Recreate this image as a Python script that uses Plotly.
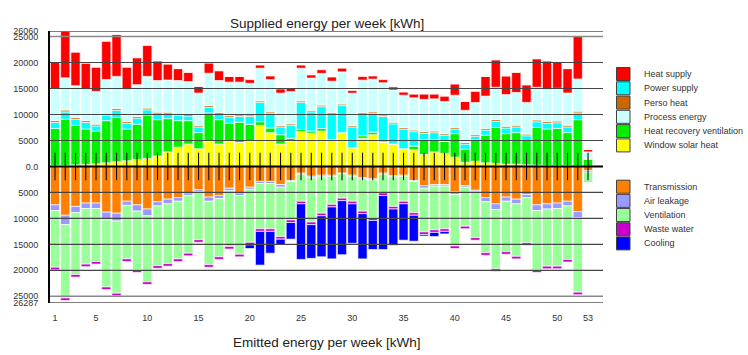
import plotly.graph_objects as go

weeks = list(range(1, 54))

# Supplied energy (kWh), stacked upward from zero
window_solar = [200, 200, 300, 400, 500, 700, 900, 1100, 1350, 1550, 2000, 2800, 3700, 4300, 3400, 4800, 4300, 4800, 4600, 4800,
                7900, 6500, 4300, 4900, 6700, 6400, 6800, 5200, 6500, 3600, 5400, 6100, 4700, 4300, 3400, 3200, 2300, 2800, 2500, 1800,
                800, 1000, 700, 600, 450, 450, 300, 250, 200, 200, 200, 100, 50]
heat_recovery = [7100, 8900, 7600, 6800, 6300, 8100, 8500, 6100, 6750, 8350, 7000, 6400, 5100, 4500, 3100, 5500, 4700, 3500, 3900, 3300,
                 700, 900, 1800, 500, 400, 400, 500, 0, 0, 0, 500, 500, 0, 0, 0, 700, 2800, 2300, 2300, 4500,
                 2500, 4100, 5300, 6900, 5850, 6050, 4700, 7250, 7000, 7100, 6300, 8900, 1300]
power_supply = [1150, 1400, 1200, 1250, 1000, 1100, 1400, 1100, 1200, 1000, 1100, 900, 1100, 900, 1100, 1100, 1000, 1200, 1100, 1500,
                3700, 2900, 1500, 2500, 5200, 3700, 4200, 4900, 5200, 4000, 4200, 3700, 4900, 3900, 3800, 2800, 1300, 1400, 1200, 900,
                1000, 700, 1000, 1200, 1100, 1100, 900, 1100, 1100, 1100, 1100, 1300, 150]
perso_heat = [350, 350, 330, 350, 330, 330, 330, 330, 330, 330, 330, 330, 330, 330, 320, 330, 330, 320, 320, 300,
              300, 300, 300, 300, 300, 300, 300, 300, 300, 300, 300, 300, 300, 300, 300, 300, 300, 300, 300, 300,
              300, 300, 320, 330, 330, 330, 320, 330, 330, 330, 330, 330, 100]
process_energy = [6200, 6200, 6100, 6000, 6300, 6500, 6200, 6200, 6100, 6100, 6100, 6200, 6300, 6300, 6200, 6200, 6200, 6400, 6300, 6100,
                  6300, 6100, 6200, 6200, 6300, 6200, 6100, 6000, 6200, 6200, 6200, 6200, 6200, 6200, 6200, 6200, 6200, 6200, 6200, 6200,
                  6200, 6200, 6200, 6200, 6100, 6300, 6100, 6300, 6200, 6300, 6200, 6200, 1200]
heat_supply = [5200, 9000, 6500, 5100, 4700, 7400, 8100, 4300, 5200, 6000, 3800, 3100, 2300, 1800, 1300, 2000, 1900, 1100, 1100, 700,
               600, 700, 800, 600, 600, 600, 700, 800, 700, 500, 700, 600, 600, 600, 600, 700, 1000, 900, 1000, 2200,
               1700, 2200, 3800, 5300, 3600, 3900, 3400, 5500, 5500, 5100, 4700, 8200, 450]

# Emitted energy (kWh), stacked downward from zero
transmission = [7400, 9400, 7700, 7050, 7050, 8800, 9000, 6700, 7400, 8200, 6800, 6300, 6000, 5100, 4500, 5900, 5600, 4200, 5100, 4000,
                2900, 2900, 3500, 2700, 1300, 1900, 1700, 1700, 1300, 1700, 2200, 2400, 1300, 1800, 1700, 2700, 3700, 3500, 3500, 4900,
                3700, 4600, 6000, 7200, 5900, 6300, 5400, 7400, 7200, 7050, 6700, 8700, 800]
air_leakage = [1100, 1800, 1200, 1050, 1050, 1500, 1500, 800, 1200, 1300, 800, 900, 700, 500, 400, 800, 600, 500, 500, 400,
               400, 400, 500, 200, 200, 300, 300, 200, 100, 200, 200, 200, 200, 200, 200, 200, 500, 300, 300, 500,
               300, 300, 800, 1100, 800, 900, 600, 1100, 1000, 1050, 900, 1200, 300]
ventilation = [10900, 14100, 11900, 10700, 10200, 12900, 13900, 10300, 11300, 12700, 11500, 11500, 11100, 11100, 9200, 12200, 11200, 10700, 11300, 10200,
               8700, 8700, 9500, 7400, 5200, 8500, 7000, 5400, 4700, 4800, 6200, 7300, 3600, 5700, 4800, 6000, 8400, 8400, 8200, 9900,
               7500, 8800, 9800, 11400, 9700, 10100, 8700, 11400, 11000, 11100, 10300, 14300, 2000]
waste_water = [500] * 52 + [50]
cooling = [0, 0, 0, 0, 0, 0, 0, 0, 0, 0, 0, 0, 0, 0, 0, 0, 0, 0, 0, 700,
           6500, 4200, 1100, 3200, 10700, 6500, 7900, 10000, 10400, 7600, 8700, 5600, 10400, 7000, 7000, 5000, 300, 800, 500, 0,
           0, 0, 0, 0, 0, 0, 0, 0, 0, 0, 0, 0, 0]

y_top = 26060
y_bottom = -26287
y_ticks = [26060, 25000, 20000, 15000, 10000, 5000, 0, -5000, -10000, -15000, -20000, -25000, -26287]
y_ticktext = ["26060", "25000", "20000", "15000", "10000", "5000", "0.0", "5000", "10000", "15000", "20000", "25000", "26287"]
x_ticks = [1, 5, 10, 15, 20, 25, 30, 35, 40, 45, 50, 53]
week_mark = 2650

supplied = [
    ("Window solar heat", window_solar, "#FFFF00"),
    ("Heat recovery ventilation", heat_recovery, "#00F000"),
    ("Power supply", power_supply, "#00FFFF"),
    ("Perso heat", perso_heat, "#CC6600"),
    ("Process energy", process_energy, "#CCFFFF"),
    ("Heat supply", heat_supply, "#FF0000"),
]
emitted = [
    ("Transmission", transmission, "#FF8000"),
    ("Air leakage", air_leakage, "#9999FF"),
    ("Ventilation", ventilation, "#99FF99"),
    ("Waste water", waste_water, "#CC00CC"),
    ("Cooling", cooling, "#0000FF"),
]

fig = go.Figure()
for name, vals, col in supplied:
    fig.add_trace(go.Bar(x=weeks, y=vals, name=name, marker=dict(color=col, line=dict(color="rgba(255,255,255,0.85)", width=0.8)),
                         showlegend=False))
for name, vals, col in emitted:
    fig.add_trace(go.Bar(x=weeks, y=[-v for v in vals], name=name, marker=dict(color=col, line=dict(color="rgba(255,255,255,0.85)", width=0.8)),
                         showlegend=False))

# week marks across the zero line
mx, my = [], []
for w in weeks:
    mx += [w, w, None]
    my += [week_mark, -week_mark, None]
fig.add_trace(go.Scatter(x=mx, y=my, mode="lines", line=dict(color="#111111", width=1.1), showlegend=False, hoverinfo="skip"))

# plot area geometry in pixels (for legend / titles placement)
W, H = 748, 355
ml, mr, mt, mb = 50, 145, 31, 52
pw, ph = W - ml - mr, H - mt - mb
def px(x):
    return (x - ml) / pw
def py(y):
    return (H - mb - y) / ph

shapes = []
for v in y_ticks:
    if v == 0:
        continue
    if abs(v) == 25000:
        col, wd = "#8a8a8a", 1.6
    elif v in (y_top, y_bottom):
        col, wd = "#555555", 1.4
    else:
        col, wd = "#454545", 1.1
    shapes.append(dict(type="line", xref="paper", yref="y", x0=0, x1=1, y0=v, y1=v, layer="above",
                       line=dict(color=col, width=wd)))
shapes.append(dict(type="line", xref="paper", yref="y", x0=0, x1=1, y0=0, y1=0, layer="above",
                   line=dict(color="#000000", width=2)))

annotations = []
font_family = "Arial, Liberation Sans, sans-serif"

def legend_block(items, top_center, step):
    for i, (name, col) in enumerate(items):
        cy = top_center + i * step
        shapes.append(dict(type="rect", xref="paper", yref="paper", x0=px(616.5), x1=px(630), y0=py(cy - 6.5), y1=py(cy + 6.5),
                           fillcolor=col, line=dict(color="#404040", width=1)))
        annotations.append(dict(text=name, xref="paper", yref="paper", x=px(642), y=py(cy), xanchor="left", yanchor="middle",
                                showarrow=False, font=dict(size=9, color="#333333", family=font_family)))

legend1 = [(n, c) for n, _, c in [supplied[5], supplied[2], supplied[3], supplied[4], supplied[1], supplied[0]]]
legend2 = [(n, c) for n, _, c in emitted]
legend_block(legend1, 74, 14.28)
legend_block(legend2, 186.7, 14.17)

annotations.append(dict(text="Supplied energy per week [kWh]", xref="paper", yref="paper", x=0.5, y=py(23), xanchor="center",
                        yanchor="middle", showarrow=False, font=dict(size=13.5, color="#222222", family=font_family)))
annotations.append(dict(text="Emitted energy per week [kWh]", xref="paper", yref="paper", x=0.5, y=py(342), xanchor="center",
                        yanchor="middle", showarrow=False, font=dict(size=13.5, color="#222222", family=font_family)))

fig.update_layout(
    width=W, height=H,
    margin=dict(l=ml, r=mr, t=mt, b=mb, pad=0),
    barmode="relative", bargap=0.1,
    plot_bgcolor="white", paper_bgcolor="white",
    font=dict(family=font_family, size=9, color="#333333"),
    showlegend=False,
    shapes=shapes, annotations=annotations,
    xaxis=dict(range=[0.51, 54.46], tickmode="array", tickvals=x_ticks, ticktext=[str(t) for t in x_ticks],
               showgrid=False, zeroline=False, showline=False, ticks="", ticklabelstandoff=8,
               tickfont=dict(size=9, color="#333333"), fixedrange=True),
    yaxis=dict(range=[y_bottom, y_top], tickmode="array", tickvals=y_ticks, ticktext=y_ticktext,
               showgrid=False, zeroline=False, showline=True, linecolor="#000000", linewidth=2, ticks="",
               ticklabelstandoff=8, tickfont=dict(size=9, color="#333333"), fixedrange=True),
)

fig.write_html("out.html", config={"displayModeBar": False},
               post_script="document.body.style.margin='0px';document.body.style.overflow='hidden';")
